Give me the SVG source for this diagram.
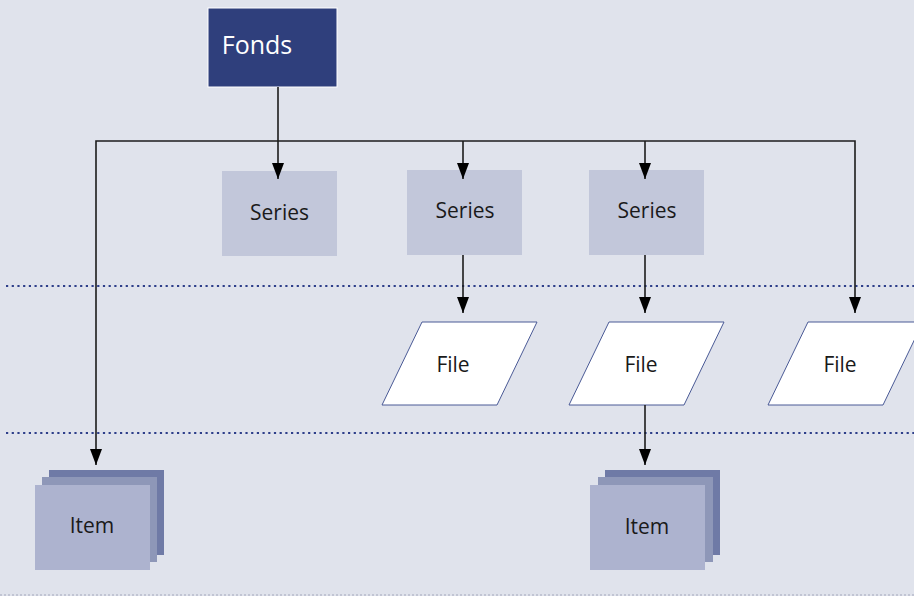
<svg xmlns="http://www.w3.org/2000/svg" width="914" height="596" viewBox="0 0 914 596">
<defs>
<marker id="arr" viewBox="0 0 16 12" refX="16" refY="6" markerWidth="16" markerHeight="12" orient="auto" markerUnits="userSpaceOnUse">
<path d="M0,0 L16,6 L0,12 z" fill="#000"/>
</marker>
<style>
.t{font-family:"Open Sans","Liberation Sans",sans-serif;font-size:21px;fill:#1a1a1a;text-anchor:middle}
.series{fill:#c2c7da}
.file{fill:#fff;stroke:#4a5a96;stroke-width:1}
.i1{fill:#6f7aa6}.i2{fill:#8e97b8}.i3{fill:#adb3cf}
.conn{fill:none;stroke:#1c1c1c;stroke-width:1.6}
.dot{stroke:#2e3f8a;stroke-width:2.2;stroke-dasharray:2.2 3.5}
</style>
</defs>
<rect x="0" y="0" width="914" height="596" fill="#e0e3ec"/>
<g id="guides">
<line class="dot" x1="6" y1="286" x2="914" y2="286"/>
<line class="dot" x1="6" y1="433" x2="914" y2="433"/>
<line x1="0" y1="595" x2="914" y2="595" stroke="#a3a7bb" stroke-width="1" stroke-dasharray="2 2"/>
</g>
<g id="fonds">
<rect x="208" y="8" width="129" height="79" fill="#2f3f7c" stroke="#ffffff" stroke-width="1"/>
<text x="257" y="54" class="t" style="fill:#fff;font-size:25px">Fonds</text>
</g>
<g id="series1"><rect class="series" x="222" y="171" width="115" height="85"/><text class="t" x="279.5" y="220">Series</text></g>
<g id="series2"><rect class="series" x="407" y="170" width="115" height="85"/><text class="t" x="465" y="218">Series</text></g>
<g id="series3"><rect class="series" x="589" y="170" width="115" height="85"/><text class="t" x="647" y="218">Series</text></g>
<g id="file1"><polygon class="file" points="422,322 537,322 497,405 382,405"/><text class="t" x="453" y="372">File</text></g>
<g id="file2"><polygon class="file" points="609,322 724,322 684,405 569,405"/><text class="t" x="641" y="372">File</text></g>
<g id="file3"><polygon class="file" points="808,322 923,322 883,405 768,405"/><text class="t" x="840" y="372">File</text></g>
<g id="item1">
<rect class="i1" x="49" y="470" width="115" height="85"/>
<rect class="i2" x="42" y="477" width="115" height="85"/>
<rect class="i3" x="35" y="485" width="115" height="85"/>
<text class="t" x="92" y="533">Item</text>
</g>
<g id="item2">
<rect class="i1" x="605" y="470" width="115" height="85"/>
<rect class="i2" x="598" y="477" width="115" height="85"/>
<rect class="i3" x="590" y="485" width="115" height="85"/>
<text class="t" x="647" y="534">Item</text>
</g>
<g id="connectors">
<path class="conn" d="M278,87 V179" marker-end="url(#arr)"/>
<path class="conn" d="M278,141 H96 V465" marker-end="url(#arr)"/>
<path class="conn" d="M278,141 H855 V313" marker-end="url(#arr)"/>
<path class="conn" d="M463,141 V179" marker-end="url(#arr)"/>
<path class="conn" d="M645,141 V179" marker-end="url(#arr)"/>
<path class="conn" d="M463,255 V313" marker-end="url(#arr)"/>
<path class="conn" d="M645,255 V313" marker-end="url(#arr)"/>
<path class="conn" d="M645,405 V465" marker-end="url(#arr)"/>
</g>
</svg>
